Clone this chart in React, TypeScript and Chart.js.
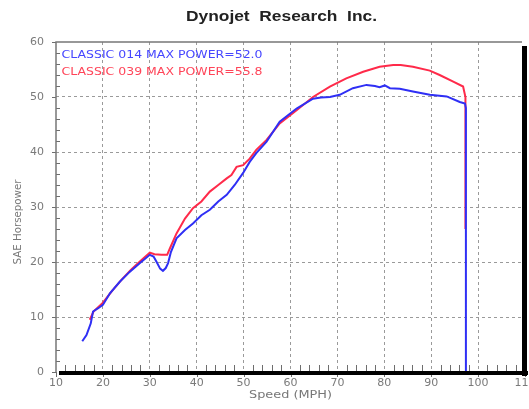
import React, { useEffect, useRef } from 'react';
import { Chart, registerables } from 'chart.js';

Chart.register(...registerables);

const TITLE = 'Dynojet  Research  Inc.';
const X_TITLE = 'Speed (MPH)';
const Y_TITLE = 'SAE Horsepower';
const RUN_LABELS = ['CLASSIC 014 MAX POWER=52.0', 'CLASSIC 039 MAX POWER=55.8'];
const RUN_COLORS = ['#2f2ff5', '#ff2a4a'];
const LABEL_COLORS = ['#4646ff', '#ff4458'];

const X_MIN = 10;
const X_MAX = 110;
const Y_MIN = 0;
const Y_MAX = 60;
const MAJOR = 10;
const MINOR = 2;

const speed014 = [15.6, 16.5, 17.4, 17.9, 19.0, 20.0, 21.5, 23.6, 25.7, 27.9, 30.0, 30.8, 31.4, 32.2, 32.8, 33.4, 33.9, 34.5, 35.7, 37.5, 39.2, 41.0, 42.8, 44.6, 46.4, 48.1, 49.9, 51.3, 52.7, 54.9, 57.7, 61.3, 64.8, 66.5, 68.4, 70.5, 73.3, 76.2, 78.0, 79.0, 80.1, 81.2, 83.3, 86.1, 89.7, 93.3, 96.1, 97.2, 97.4, 97.4];
const hp014 = [5.6, 6.7, 8.8, 11.0, 11.6, 12.2, 14.3, 16.4, 18.2, 19.8, 21.3, 21.0, 20.1, 18.8, 18.4, 18.9, 19.8, 21.8, 24.3, 25.8, 27.0, 28.5, 29.5, 31.0, 32.2, 34.0, 36.2, 38.2, 39.8, 41.9, 45.5, 47.9, 49.7, 49.9, 50.0, 50.4, 51.6, 52.2, 52.0, 51.8, 52.1, 51.6, 51.5, 51.0, 50.4, 50.1, 49.1, 48.8, 48.0, 0];

const speed039 = [17.2, 18.0, 20.0, 22.0, 24.0, 26.0, 28.0, 30.0, 31.0, 32.5, 33.7, 34.3, 35.7, 37.5, 39.2, 41.0, 42.8, 44.6, 46.4, 47.4, 48.5, 49.9, 51.3, 52.7, 54.9, 57.7, 61.3, 64.8, 68.4, 71.9, 75.5, 79.0, 81.9, 83.5, 86.1, 89.7, 91.8, 94.7, 96.8, 97.3, 97.3];
const hp039 = [9.5, 11.0, 12.6, 14.8, 16.8, 18.6, 20.2, 21.7, 21.4, 21.3, 21.3, 22.5, 25.2, 27.9, 29.8, 31.0, 32.8, 34.0, 35.2, 35.8, 37.3, 37.6, 38.8, 40.4, 42.2, 45.2, 47.6, 50.0, 51.9, 53.4, 54.6, 55.5, 55.8, 55.8, 55.5, 54.8, 54.0, 52.8, 51.9, 50.0, 26.0];

const toPoints = (xs: number[], ys: number[]) => xs.map((x, i) => ({ x, y: ys[i] }));

function drawFitted(
  ctx: CanvasRenderingContext2D,
  text: string,
  x: number,
  y: number,
  font: string,
  color: string,
  width: number,
  align: CanvasTextAlign,
  rotate = false
) {
  ctx.save();
  ctx.font = font;
  ctx.fillStyle = color;
  ctx.textBaseline = 'middle';
  ctx.textAlign = align;
  const w = ctx.measureText(text).width || 1;
  ctx.translate(x, y);
  if (rotate) ctx.rotate(-Math.PI / 2);
  ctx.scale(width / w, 1);
  ctx.fillText(text, 0, 0);
  ctx.restore();
}

const framePlugin = {
  id: 'dynoFrame',
  afterDatasetsDraw(chart: any) {
    const ctx: CanvasRenderingContext2D = chart.ctx;
    const { left, right, top, bottom } = chart.chartArea;
    const xs = chart.scales.x;
    const ys = chart.scales.y;
    ctx.save();
    // minor / major ticks
    ctx.strokeStyle = '#6e6e6e';
    ctx.lineWidth = 1;
    ctx.beginPath();
    for (const t of ys.ticks) {
      const py = Math.round(ys.getPixelForValue(t.value)) + 0.5;
      if (t.value % MAJOR === 0) {
        ctx.moveTo(left - 4, py);
        ctx.lineTo(left, py);
      } else {
        ctx.moveTo(left, py);
        ctx.lineTo(left + 4, py);
      }
    }
    for (const t of xs.ticks) {
      const px = Math.round(xs.getPixelForValue(t.value)) + 0.5;
      if (t.value % MAJOR === 0) {
        ctx.moveTo(px, bottom);
        ctx.lineTo(px, bottom + 5);
      } else {
        ctx.moveTo(px, bottom);
        ctx.lineTo(px, bottom - 7);
      }
    }
    ctx.stroke();
    // gray left and top border
    ctx.strokeStyle = '#777777';
    ctx.lineWidth = 1.5;
    ctx.beginPath();
    ctx.moveTo(left, bottom);
    ctx.lineTo(left, top);
    ctx.lineTo(right - 3, top);
    ctx.stroke();
    // black shadow border bottom and right
    ctx.fillStyle = '#000000';
    ctx.fillRect(left + 3, bottom - 1, right - left, 4);
    ctx.fillRect(right - 3, top + 4, 5, bottom - top);
    ctx.restore();

    drawFitted(ctx, TITLE, 281.5, 17, 'bold 14px "Liberation Sans"', '#222222', 191, 'center');
    drawFitted(ctx, RUN_LABELS[0], 61.5, 55.5, '10.5px "DejaVu Sans"', LABEL_COLORS[0], 201, 'left');
    drawFitted(ctx, RUN_LABELS[1], 61.5, 72, '10.5px "DejaVu Sans"', LABEL_COLORS[1], 201, 'left');
    drawFitted(ctx, X_TITLE, (left + right) / 2, 395, '10px "DejaVu Sans"', '#777777', 83, 'center');
    drawFitted(ctx, Y_TITLE, 18, 222, '10px "DejaVu Sans"', '#777777', 85, 'center', true);
  },
};

const gridColor = (v: number | undefined, min: number, max: number) =>
  v !== undefined && v % MAJOR === 0 && v !== min && v !== max ? '#9a9a9a' : 'rgba(0,0,0,0)';

export default function App() {
  const ref = useRef<HTMLCanvasElement | null>(null);
  useEffect(() => {
    if (!ref.current) return;
    const chart = new Chart(ref.current, {
      type: 'line',
      data: {
        datasets: [
          {
            label: RUN_LABELS[0],
            data: toPoints(speed014, hp014),
            borderColor: RUN_COLORS[0],
            borderWidth: 2,
            pointRadius: 0,
            tension: 0,
            fill: false,
          },
          {
            label: RUN_LABELS[1],
            data: toPoints(speed039, hp039),
            borderColor: RUN_COLORS[1],
            borderWidth: 2,
            pointRadius: 0,
            tension: 0,
            fill: false,
          },
        ],
      },
      options: {
        animation: false,
        responsive: false,
        maintainAspectRatio: false,
        layout: { padding: { top: 42, right: 4, left: 0, bottom: 0 } },
        plugins: {
          legend: { display: false },
          tooltip: { enabled: false },
          title: { display: false },
        },
        scales: {
          x: {
            type: 'linear',
            min: X_MIN,
            max: X_MAX,
            afterFit(s: any) {
              s.height = 37;
              s.paddingLeft = 0;
              s.paddingRight = 0;
            },
            ticks: {
              stepSize: MINOR,
              autoSkip: false,
              maxRotation: 0,
              padding: 5,
              color: '#7a7a7a',
              font: { family: 'DejaVu Sans', size: 11 },
              callback: (v: any) => (Number(v) % MAJOR === 0 ? String(v) : ''),
            },
            grid: {
              drawTicks: false,
              lineWidth: 1,
              color: (c: any) => gridColor(c.tick?.value, X_MIN, X_MAX),
            },
            border: { display: false, dash: [3, 3] },
          },
          y: {
            type: 'linear',
            min: Y_MIN,
            max: Y_MAX,
            afterFit(s: any) {
              s.width = 56;
              s.paddingTop = 0;
              s.paddingBottom = 0;
            },
            ticks: {
              stepSize: MINOR,
              autoSkip: false,
              padding: 12,
              color: '#7a7a7a',
              font: { family: 'DejaVu Sans', size: 11 },
              callback: (v: any) => (Number(v) % MAJOR === 0 ? String(v) : ''),
            },
            grid: {
              drawTicks: false,
              lineWidth: 1,
              color: (c: any) => gridColor(c.tick?.value, Y_MIN, Y_MAX),
            },
            border: { display: false, dash: [3, 3] },
          },
        },
      },
      plugins: [framePlugin],
    } as any);
    return () => chart.destroy();
  }, []);
  return (
    <div style={{ position: 'fixed', left: 0, top: 0, width: 529, height: 409, background: '#ffffff' }}>
      <canvas ref={ref} width={529} height={409} />
    </div>
  );
}
